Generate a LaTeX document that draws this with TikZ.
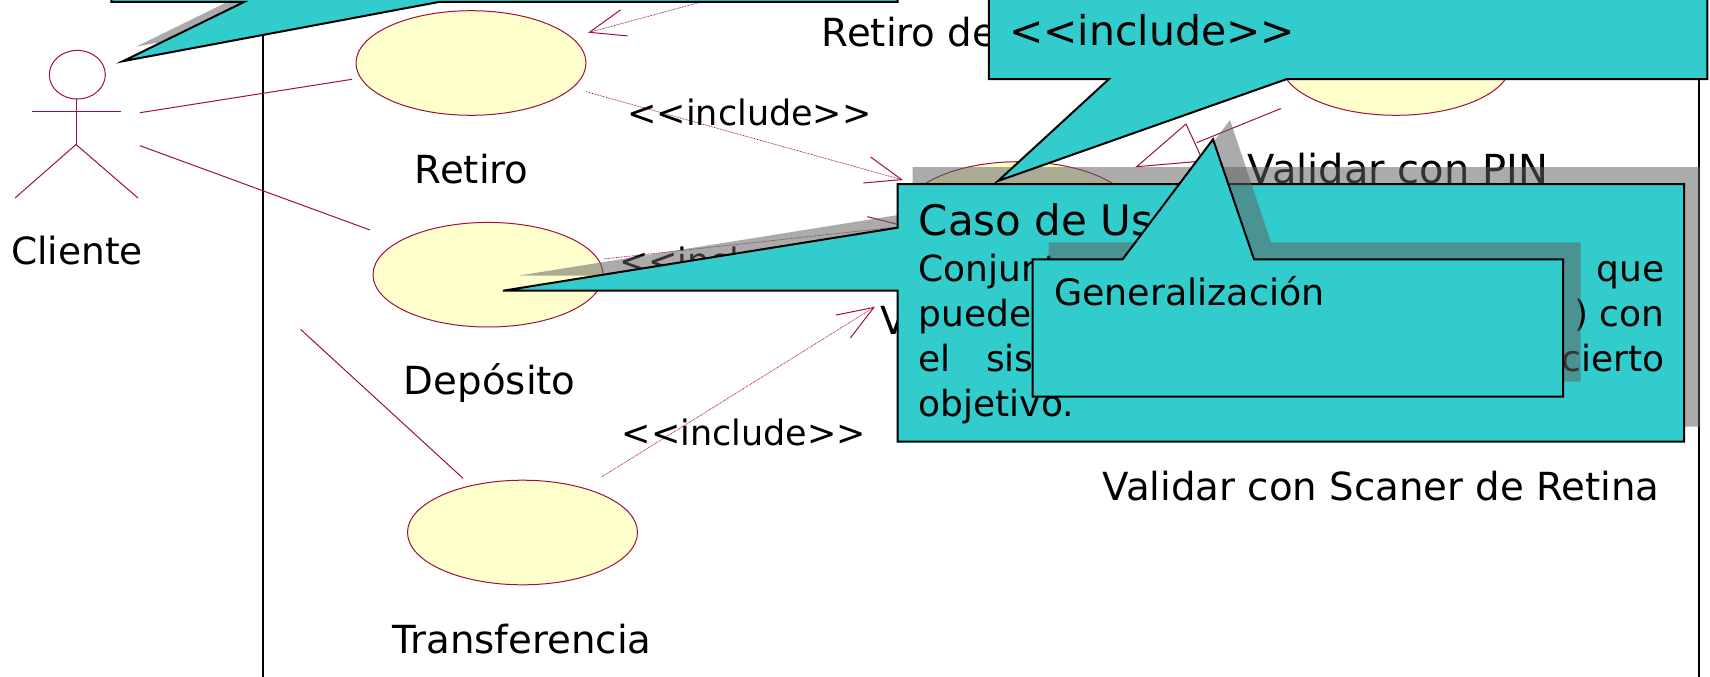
\documentclass[tikz,border=0pt]{standalone}
\usepackage{fontspec}
\setmainfont{DejaVu Sans}
\newfontfamily\calloutfont{DejaVu Sans}
\usetikzlibrary{shapes.geometric,arrows.meta}
\definecolor{umlred}{HTML}{A0103F}
\definecolor{ucfill}{HTML}{FFFFCC}
\definecolor{callfill}{HTML}{33CCCC}
\definecolor{shadowgray}{HTML}{616161}
\newcommand{\inclabel}{{<}{<}include{>}{>}}
\tikzset{
  usecase/.style={ellipse,draw=umlred,fill=ucfill,line width=1pt,minimum width=230pt,minimum height=104.6pt,inner sep=0pt},
  assoc/.style={draw=umlred,line width=1pt},
  incl/.style={draw=umlred,line width=.7pt,dash pattern=on .8pt off .8pt,-{Straight Barb[length=36pt,width=27pt,line width=1pt]}},
  gen/.style={draw=umlred,line width=1pt},
  lbl/.style={anchor=base,inner sep=0pt,font=\fontsize{38.7}{46}\selectfont},
  inclbl/.style={anchor=base,inner sep=0pt,font=\fontsize{35}{42}\selectfont},
  calltxt/.style={anchor=base west,inner sep=0pt,font=\calloutfont\fontsize{36}{44}\selectfont},
  callr/.style={anchor=base east,inner sep=0pt,font=\calloutfont\fontsize{36}{44}\selectfont},
  callbox/.style={draw=black,fill=callfill,line width=2pt,line join=miter},
  callshadow/.style={fill=shadowgray,fill opacity=.53},
  boundary/.style={draw=black,line width=2pt},
}
\begin{document}
\begin{tikzpicture}[x=1pt,y=-1pt]
\clip (0,0) rectangle (1710,677);
\fill[white] (0,0) rectangle (1710,677);
% system boundary
\coordinate (bl1) at (263,0); \coordinate (bl2) at (263,677);
\coordinate (br1) at (1699,0); \coordinate (br2) at (1699,677);
\draw[boundary] (bl1) -- (bl2);
\draw[boundary] (br1) -- (br2);
% use cases
\node[usecase] (retiro) at (471,63) {};
\node[usecase] (deposito) at (488,274.7) {};
\node[usecase] (transf) at (522.5,532.5) {};
\node[usecase] (validar) at (1019,214) {};
\node[usecase] (pin) at (1396,63) {};
% actor
\node[ellipse,draw=umlred,line width=1pt,minimum width=56pt,minimum height=48.6pt,inner sep=0pt] (head) at (77.3,74.7) {};
\coordinate (armL) at (32,111.7); \coordinate (armR) at (121,111.7);
\coordinate (hip) at (76,144.5); \coordinate (neck) at (76,99);
\coordinate (legL) at (15,198); \coordinate (legR) at (138,198);
\draw[assoc] (armL) -- (armR);
\draw[assoc] (neck) -- (hip);
\draw[assoc] (legL) -- (hip) -- (legR);
% associations
\coordinate (a1) at (140,112.7); \coordinate (r1) at (352,79.3);
\coordinate (a2) at (140,145.7); \coordinate (d1) at (370,230);
\coordinate (a3) at (300.5,329.3); \coordinate (t1) at (463,478.3);
\draw[assoc] (a1) -- (r1);
\draw[assoc] (a2) -- (d1);
\draw[assoc] (a3) -- (t1);
% include dependencies
\coordinate (i1s) at (760,-14); \coordinate (i1e) at (588,32.7);
\coordinate (i2s) at (586,91.7); \coordinate (i2e) at (903,180);
\coordinate (i3s) at (603.5,259); \coordinate (i3e) at (906,226);
\coordinate (i4s) at (602,476.7); \coordinate (i4e) at (875,306.7);
\draw[incl] (i1s) -- (i1e);
\draw[incl] (i2s) -- (i2e);
\draw[incl] (i3s) -- (i3e);
\draw[incl] (i4s) -- (i4e);
% generalization
\coordinate (g1) at (1281,108.5); \coordinate (g2) at (1196.7,142.7);
\coordinate (gA) at (1186,124); \coordinate (gB) at (1136.7,166.7); \coordinate (gC) at (1203,161);
\draw[gen] (g1) -- (g2);
\draw[gen] (gA) -- (gB) -- (gC) -- cycle;
% labels
\node[lbl,font=\fontsize{37.5}{45}\selectfont] (lcli) at (77,264) {Cliente};
\node[lbl] (lret) at (471.8,183.5) {Retiro};
\node[lbl] (ldep) at (489.8,394.5) {Depósito};
\node[lbl] (ltra) at (522,653) {Transferencia};
\node[lbl,anchor=base west] (lrde) at (821.7,47) {Retiro de};
\node[lbl,anchor=base west,font=\fontsize{40}{48}\selectfont] (lpin) at (1247.7,183.5) {Validar con PIN};
\node[lbl,anchor=base west] (lval) at (880,334) {V};
\node[lbl] (lsca) at (1381,500.5) {Validar con Scaner de Retina};
\node[inclbl] (inc1) at (749.5,125) {\inclabel};
\node[inclbl,anchor=base west] (inc2) at (619,273) {\inclabel};
\node[inclbl] (inc3) at (744,445) {\inclabel};
% callout top left
\path[callshadow] (125.4,-30) -- (912,-30) -- (912,-13) -- (453,-13) -- (136,46.7) -- (258,-13) -- (125.4,-13) -- cycle;
\path[callbox] (111.4,-30) -- (897.7,-30) -- (897.7,2) -- (438.8,2) -- (123,61.2) -- (244,2) -- (111.4,2) -- cycle;
% callout Caso de Uso
\path[callshadow] (912.7,167) -- (1700,167) -- (1700,426.7) -- (912.7,426.7) -- (912.7,275.7) -- (518,275.7) -- (912.7,212.7) -- cycle;
\path[callbox] (897.7,184) -- (1684,184) -- (1684,441.7) -- (897.7,441.7) -- (897.7,290.7) -- (503,290.7) -- (897.7,227.7) -- cycle;
\node[calltxt,font=\calloutfont\fontsize{42}{50}\selectfont] (tcaso) at (918.6,235) {Caso de Uso};
\node[calltxt] (tc1) at (918.6,281) {Conjunto};
\node[callr] (tc1b) at (1664.6,281) {que};
\node[calltxt] (tc2) at (918.6,326) {pueden};
\node[callr] (tc2b) at (1664.6,326) {) con};
\node[calltxt] (tc3) at (918.6,371) {el};
\node[calltxt] (tc3a) at (986,371) {sistema};
\node[callr] (tc3b) at (1664.6,371) {cierto};
\node[calltxt] (tc4) at (918.6,416) {objetivo.};
% callout Generalización
\path[callshadow] (1048.6,242.3) -- (1138,242.3) -- (1230,120) -- (1271,242.3) -- (1580.7,242.3) -- (1580.7,381.7) -- (1048.6,381.7) -- cycle;
\path[callbox] (1032.7,259.3) -- (1122.6,259.3) -- (1213,139.3) -- (1254,259.3) -- (1563,259.3) -- (1563,396.7) -- (1032.7,396.7) -- cycle;
\node[calltxt,font=\calloutfont\fontsize{36.4}{44}\selectfont] (tgen) at (1054,305.5) {Generalización};
% callout top right
\path[callbox] (988.8,-30) -- (1707.4,-30) -- (1707.4,79) -- (1287,79) -- (998,181) -- (1109,79) -- (988.8,79) -- cycle;
\node[calltxt,font=\calloutfont\fontsize{41}{48}\selectfont] (tinc) at (1009,46) {\inclabel};
\end{tikzpicture}
\end{document}
